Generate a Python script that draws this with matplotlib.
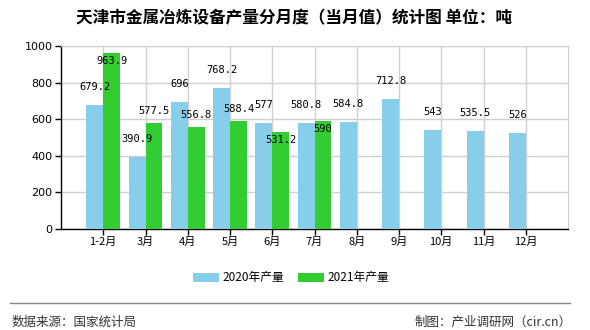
import matplotlib
matplotlib.use("Agg")
import matplotlib.pyplot as plt
import numpy as np

plt.rcParams['font.family'] = ['Noto Sans CJK SC', 'DejaVu Sans']

categories = ["1-2月", "3月", "4月", "5月", "6月", "7月", "8月", "9月", "10月", "11月", "12月"]
values_2020 = [679.2, 390.9, 696, 768.2, 577, 580.8, 584.8, 712.8, 543, 535.5, 526]
values_2021 = [963.9, 577.5, 556.8, 588.4, 531.2, 590]
labels_2020 = ["679.2", "390.9", "696", "768.2", "577", "580.8", "584.8", "712.8", "543", "535.5", "526"]
labels_2021 = ["963.9", "577.5", "556.8", "588.4", "531.2", "590"]
series_names = ["2020年产量", "2021年产量"]
yticks = [0, 200, 400, 600, 800, 1000]

# label placement: +1 above bar top, -1 below bar top
place_2021 = [-1, 1, 1, 1, -1, -1]

c2020 = "#87CEEB"
c2021 = "#33CC33"

fig = plt.figure(figsize=(5.9, 3.3), dpi=100)
ax = fig.add_axes([61/590, 1-229/330, 507/590, 183/330])

x = np.arange(len(categories))
w = 0.4
ax.bar(x - w/2, values_2020, width=w, color=c2020, zorder=3, label=series_names[0])
x2 = np.arange(len(values_2021))
ax.bar(x2 + w/2, values_2021, width=w, color=c2021, zorder=3, label=series_names[1])

ax.set_xlim(-1, len(categories))
ax.set_ylim(0, 1000)
ax.set_yticks(yticks)
ax.set_yticklabels([str(v) for v in yticks], fontsize=8, family='DejaVu Sans')
ax.set_xticks(x)
ax.set_xticklabels(categories, fontsize=8)
ax.tick_params(axis='both', length=4, width=1, color='black', pad=2)
ax.grid(True, color='#d0d0d0', linewidth=1, zorder=0)
ax.set_axisbelow(True)
for s in ['top', 'right']:
    ax.spines[s].set_color('#d0d0d0')
for s in ['left', 'bottom']:
    ax.spines[s].set_color('black')
    ax.spines[s].set_linewidth(1)

for xi, v, lab in zip(x, values_2020, labels_2020):
    ax.annotate(lab, (xi - w/2, v), xytext=(0, 13), textcoords='offset points',
                ha='center', va='center', fontsize=7.5, family='DejaVu Sans Mono', zorder=5)
for xi, v, lab, p in zip(x2, values_2021, labels_2021, place_2021):
    off = 9 if p > 0 else -6
    ax.annotate(lab, (xi + w/2, v), xytext=(0, off), textcoords='offset points',
                ha='center', va='center', fontsize=7.5, family='DejaVu Sans Mono', zorder=5)

fig.text(294/590, 1-18/330, "天津市金属冶炼设备产量分月度（当月值）统计图 单位：吨",
         ha='center', va='center', fontsize=12, fontweight='bold')

leg = fig.legend(loc='center', bbox_to_anchor=(291/590, 1-278/330), ncol=2, frameon=False,
                 fontsize=8.5, handlelength=2.2, handleheight=0.9, columnspacing=1.2, handletextpad=0.3)

fig.add_artist(plt.Line2D([10/590, 570/590], [1-303/330, 1-303/330], color='#888888', linewidth=1))
fig.text(12/590, 1-322/330, "数据来源：国家统计局", ha='left', va='center', fontsize=9, color='#333333')
fig.text(572/590, 1-322/330, "制图：产业调研网（cir.cn）", ha='right', va='center', fontsize=9, color='#333333')

fig.savefig("out.png", dpi=100)
